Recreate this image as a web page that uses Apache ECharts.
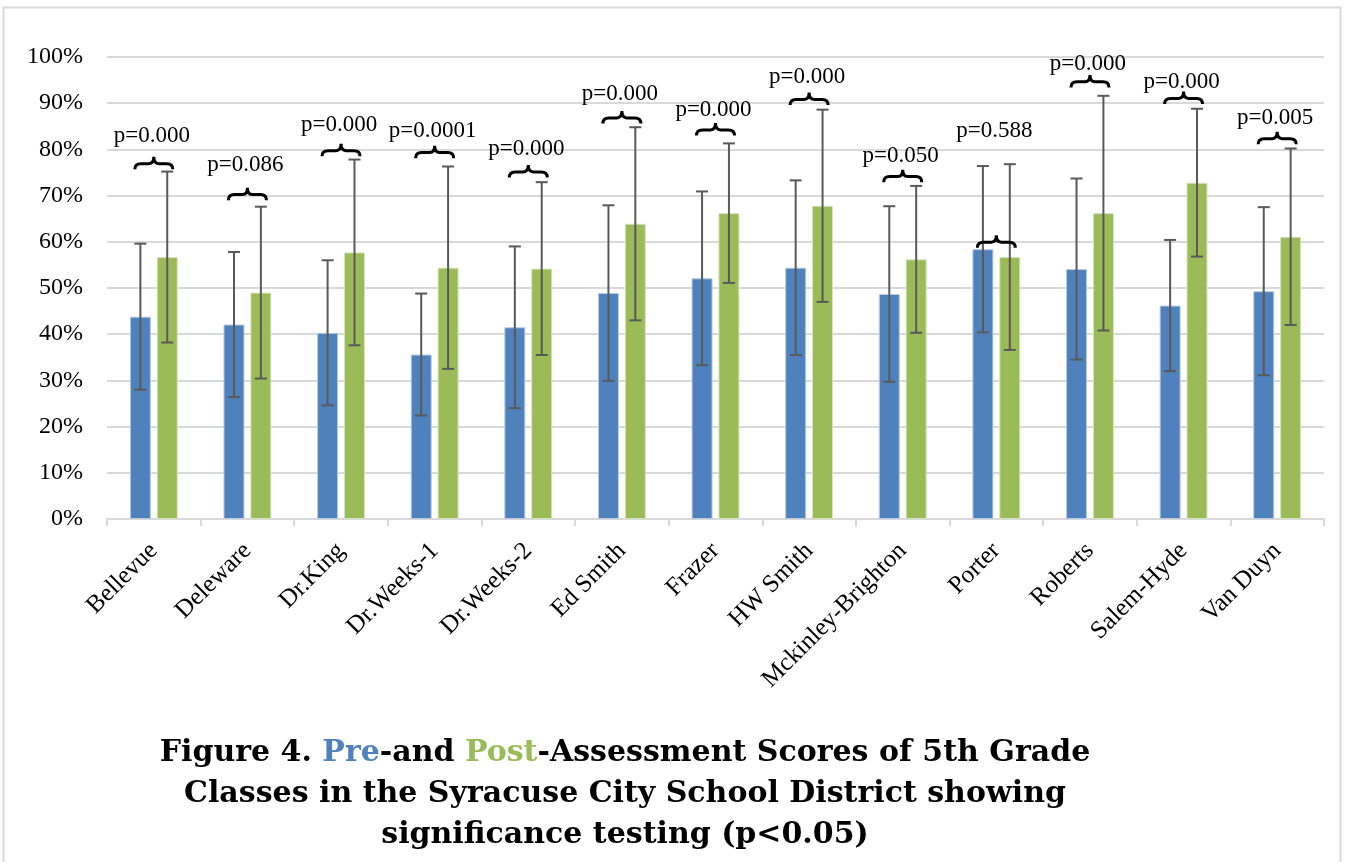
<!DOCTYPE html>
<html>
<head>
<meta charset="utf-8">
<script src="https://cdn.jsdelivr.net/npm/echarts@6/dist/echarts.min.js"></script>
<style>
  html, body { margin: 0; padding: 0; background: #fff; }
  #chart { width: 1345px; height: 862px; }
</style>
</head>
<body>
<div id="chart"></div>
<script>
// Schools (5th grade classes)
const schools = ['Bellevue', 'Deleware', 'Dr.King', 'Dr.Weeks-1', 'Dr.Weeks-2', 'Ed Smith',
  'Frazer', 'HW Smith', 'Mckinley-Brighton', 'Porter', 'Roberts', 'Salem-Hyde', 'Van Duyn'];

// Mean scores (%) and standard deviations (%)
const preMean  = [43.8, 42.1, 40.3, 35.6, 41.5, 48.9, 52.1, 54.4, 48.7, 58.4, 54.1, 46.2, 49.3];
const preSD    = [15.8, 15.7, 15.7, 13.2, 17.5, 19.0, 18.8, 18.9, 19.0, 18.0, 19.6, 14.2, 18.2];
const postMean = [56.7, 49.0, 57.7, 54.4, 54.2, 63.9, 66.2, 67.8, 56.2, 56.7, 66.2, 72.8, 61.1];
const postSD   = [18.5, 18.6, 20.1, 21.9, 18.7, 20.9, 15.1, 20.8, 15.9, 20.1, 25.4, 16.0, 19.1];

// Paired-test p values, with the score levels (%) where each bracket and its label sit
const pValues   = ['p=0.000', 'p=0.086', 'p=0.000', 'p=0.0001', 'p=0.000', 'p=0.000', 'p=0.000',
  'p=0.000', 'p=0.050', 'p=0.588', 'p=0.000', 'p=0.000', 'p=0.005'];
const bracketAt = [75.7, 69.0, 78.5, 78.1, 73.9, 85.6, 83.0, 89.6, 72.9, 58.7, 93.4, 89.8, 81.1];
const pLabelAt  = [82.9, 76.6, 85.2, 84.1, 80.2, 92.1, 88.6, 95.7, 78.6, 84.1, 98.4, 94.6, 86.9];

const yTicks = [0, 10, 20, 30, 40, 50, 60, 70, 80, 90, 100];

const BLUE = '#4F81BD';
const GREEN = '#9BBB59';
const SERIF = '"Liberation Serif", serif';
const TITLE_FONT = '"DejaVu Serif", serif';

const BAR_W = 21;
const BAR_GAP = 0.28;
const HALF_STEP = (BAR_W + BAR_W * BAR_GAP) / 2;

function errorBarRenderer(offset) {
  return function (params, api) {
    const i = api.value(0);
    const m = api.value(1);
    const sd = api.value(2);
    const x = api.coord([i, m])[0] + offset;
    const yTop = api.coord([i, m + sd])[1];
    const yBot = api.coord([i, m - sd])[1];
    const cap = 6;
    const style = { stroke: '#595959', lineWidth: 2 };
    return {
      type: 'group',
      children: [
        { type: 'line', shape: { x1: x, y1: yTop, x2: x, y2: yBot }, style },
        { type: 'line', shape: { x1: x - cap, y1: yTop, x2: x + cap, y2: yTop }, style },
        { type: 'line', shape: { x1: x - cap, y1: yBot, x2: x + cap, y2: yBot }, style }
      ]
    };
  };
}

// Curly bracket joining a school's two bars, with its p value above
function bracketRenderer(params, api) {
  const i = api.value(0);
  const level = api.value(1);
  const labelLevel = api.value(2);
  const p = api.coord([i, level]);
  const xc = p[0];
  const yb = p[1];
  const hw = 19, h = 12.5;
  const ym = yb - h * 0.45, yt = yb - h;
  const x0 = xc - hw, x1 = xc + hw;
  const d = `M${x0},${yb} Q${x0},${ym} ${x0 + 6},${ym} L${xc - 5},${ym} Q${xc},${ym} ${xc},${yt} ` +
            `Q${xc},${ym} ${xc + 5},${ym} L${x1 - 6},${ym} Q${x1},${ym} ${x1},${yb}`;
  const ly = api.coord([i, labelLevel])[1];
  return {
    type: 'group',
    children: [
      { type: 'path', shape: { pathData: d }, style: { stroke: '#000', lineWidth: 3, fill: null } },
      {
        type: 'text',
        x: xc - 2, y: ly,
        style: {
          text: pValues[params.dataIndex],
          font: '23px ' + SERIF,
          fill: '#000',
          align: 'center',
          verticalAlign: 'middle'
        }
      }
    ]
  };
}

function draw() {
  const chart = echarts.init(document.getElementById('chart'), null, { renderer: 'canvas' });

  chart.setOption({
    backgroundColor: '#fff',
    animation: false,
    title: {
      text: 'Figure 4. {pre|Pre}-and {post|Post}-Assessment Scores of 5th Grade\n' +
            'Classes in the Syracuse City School District showing\n' +
            'significance testing (p<0.05)',
      left: 620,
      top: 728,
      textAlign: 'center',
      textStyle: {
        fontFamily: TITLE_FONT,
        fontWeight: 'bold',
        fontSize: 30,
        lineHeight: 41,
        color: '#000',
        rich: {
          pre: { fontFamily: TITLE_FONT, fontWeight: 'bold', fontSize: 30, lineHeight: 41, color: BLUE },
          post: { fontFamily: TITLE_FONT, fontWeight: 'bold', fontSize: 30, lineHeight: 41, color: GREEN }
        }
      }
    },
    graphic: [{
      type: 'rect',
      shape: { x: 3.5, y: 7.5, width: 1337, height: 900 },
      style: { stroke: '#d9d9d9', lineWidth: 2, fill: null },
      silent: true
    }],
    grid: { left: 107, right: 21, top: 57, bottom: 343, containLabel: false },
    xAxis: {
      type: 'category',
      data: schools,
      axisLine: { lineStyle: { color: '#d9d9d9', width: 2 } },
      axisTick: { show: true, length: 7, lineStyle: { color: '#d9d9d9', width: 2 } },
      axisLabel: {
        interval: 0,
        rotate: 45,
        margin: 28,
        fontFamily: SERIF,
        fontSize: 25,
        color: '#000'
      }
    },
    yAxis: {
      type: 'value',
      min: yTicks[0],
      max: yTicks[yTicks.length - 1],
      interval: 10,
      axisLine: { show: false },
      axisTick: { show: false },
      splitLine: { lineStyle: { color: '#d9d9d9', width: 2 } },
      axisLabel: {
        formatter: '{value}%',
        margin: 24,
        fontFamily: SERIF,
        fontSize: 24,
        color: '#000'
      }
    },
    series: [
      {
        name: 'Pre',
        type: 'bar',
        data: preMean,
        barWidth: BAR_W,
        barGap: (BAR_GAP * 100) + '%',
        itemStyle: { color: BLUE, borderColor: '#b8cce4', borderWidth: 1 }
      },
      {
        name: 'Post',
        type: 'bar',
        data: postMean,
        barWidth: BAR_W,
        barGap: (BAR_GAP * 100) + '%',
        itemStyle: { color: GREEN, borderColor: '#d7e4bd', borderWidth: 1 }
      },
      {
        name: 'Pre SD',
        type: 'custom',
        renderItem: errorBarRenderer(-HALF_STEP),
        data: preMean.map((m, i) => [i, m, preSD[i]]),
        encode: { x: 0, y: 1 },
        z: 5
      },
      {
        name: 'Post SD',
        type: 'custom',
        renderItem: errorBarRenderer(HALF_STEP),
        data: postMean.map((m, i) => [i, m, postSD[i]]),
        encode: { x: 0, y: 1 },
        z: 5
      },
      {
        name: 'Significance',
        type: 'custom',
        renderItem: bracketRenderer,
        data: bracketAt.map((b, i) => [i, b, pLabelAt[i]]),
        encode: { x: 0, y: 1 },
        z: 6
      }
    ]
  });
}

// Make sure both serif faces are ready before the canvas is painted
Promise.all([
  document.fonts.load('24px "Liberation Serif"'),
  document.fonts.load('bold 30px "DejaVu Serif"')
]).then(draw, draw);
</script>
</body>
</html>
